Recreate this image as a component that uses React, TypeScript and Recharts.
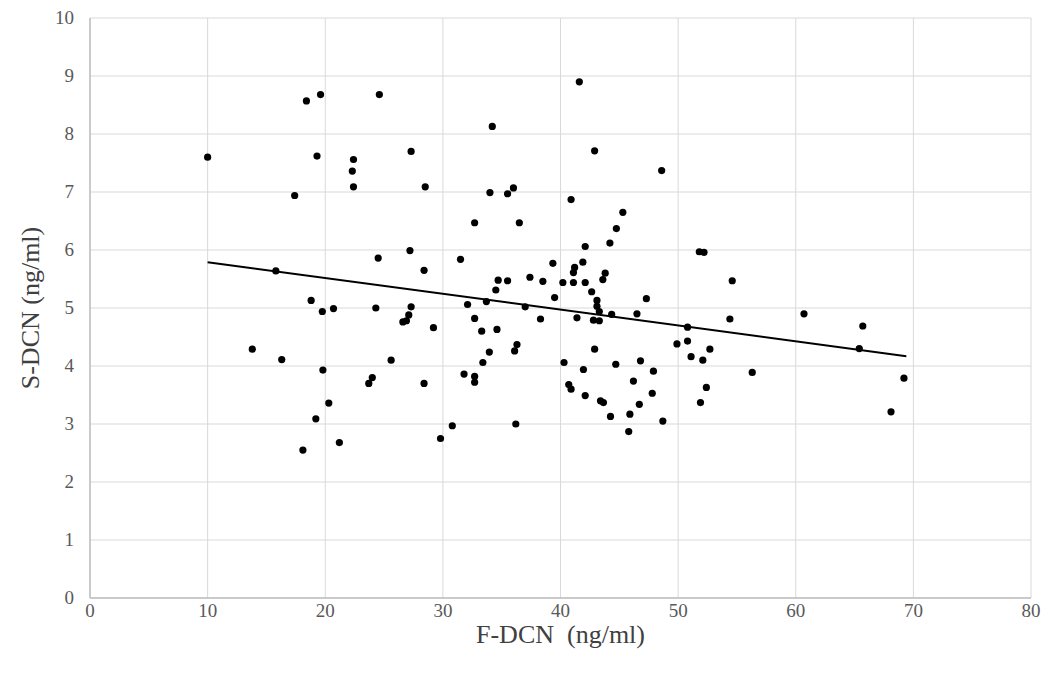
import React from 'react'
import { ScatterChart, Scatter, XAxis, YAxis, CartesianGrid } from 'recharts'

// F-DCN (ng/ml)
const fdcn = [
    10.0, 13.8, 15.8, 16.3, 17.4, 18.1, 18.4, 18.8, 19.2, 19.3,
    19.6, 19.75, 19.8, 20.3, 20.7, 21.2, 22.3, 22.4, 22.4, 23.7,
    24.0, 24.3, 24.5, 24.6, 25.6, 26.6, 26.9, 27.1, 27.2, 27.3,
    27.3, 28.4, 28.4, 28.5, 29.2, 29.8, 30.8, 31.5, 31.8, 32.1,
    32.7, 32.7, 32.7, 32.7, 33.3, 33.4, 33.7, 33.95, 34.0, 34.2,
    34.5, 34.6, 34.7, 35.5, 35.5, 36.0, 36.1, 36.2, 36.3, 36.5,
    37.0, 37.4, 38.3, 38.5, 39.35, 39.5, 40.2, 40.3, 40.7, 40.9,
    40.9, 41.1, 41.1, 41.2, 41.4, 41.6, 41.9, 41.95, 42.1, 42.1,
    42.1, 42.65, 42.8, 42.9, 42.9, 43.1, 43.1, 43.3, 43.3, 43.4,
    43.6, 43.65, 43.8, 44.2, 44.25, 44.35, 44.7, 44.75, 45.3, 45.8,
    45.9, 46.2, 46.5, 46.7, 46.8, 47.3, 47.8, 47.9, 48.6, 48.7,
    49.9, 50.8, 50.8, 51.1, 51.8, 52.2, 51.9, 52.1, 52.4, 52.7,
    54.4, 54.6, 56.3, 60.7, 65.4, 65.7, 68.1, 69.2,
]

// S-DCN (ng/ml)
const sdcn = [
    7.60, 4.29, 5.64, 4.11, 6.94, 2.55, 8.57, 5.13, 3.09, 7.62,
    8.68, 4.94, 3.93, 3.36, 4.99, 2.68, 7.36, 7.56, 7.09, 3.70,
    3.80, 5.00, 5.86, 8.68, 4.10, 4.76, 4.78, 4.88, 5.99, 5.02,
    7.70, 5.65, 3.70, 7.09, 4.66, 2.75, 2.97, 5.84, 3.86, 5.06,
    6.47, 4.82, 3.82, 3.72, 4.60, 4.06, 5.11, 4.24, 6.99, 8.13,
    5.31, 4.63, 5.48, 5.47, 6.97, 7.07, 4.26, 3.00, 4.37, 6.47,
    5.02, 5.53, 4.81, 5.46, 5.77, 5.18, 5.44, 4.06, 3.68, 3.60,
    6.87, 5.44, 5.61, 5.70, 4.83, 8.90, 5.79, 3.94, 6.06, 5.44,
    3.49, 5.28, 4.79, 4.29, 7.71, 5.13, 5.03, 4.94, 4.78, 3.40,
    5.49, 3.37, 5.60, 6.12, 3.13, 4.89, 4.03, 6.37, 6.65, 2.87,
    3.17, 3.74, 4.90, 3.34, 4.09, 5.16, 3.53, 3.91, 7.37, 3.05,
    4.38, 4.43, 4.67, 4.16, 5.97, 5.96, 3.37, 4.10, 3.63, 4.29,
    4.81, 5.47, 3.89, 4.90, 4.30, 4.69, 3.21, 3.79,
]

// linear trend line end points
const trendX = [10.0, 69.4]
const trendY = [5.79, 4.17]

const xTicks = [0, 10, 20, 30, 40, 50, 60, 70, 80]
const yTicks = [0, 1, 2, 3, 4, 5, 6, 7, 8, 9, 10]

const points = fdcn.map((x, i) => ({ x, y: sdcn[i] }))
const trend = trendX.map((x, i) => ({ x, y: trendY[i] }))

const font = '"Liberation Serif", "Times New Roman", serif'
const titleStyle = { fill: '#404040', fontSize: 26, fontFamily: font, textAnchor: 'middle' as const }

function XTick({ x, y, payload }: any) {
    return (
        <text x={x} y={y + 19} textAnchor="middle" fill="#595959" fontSize={19} fontFamily={font}>
            {payload.value}
        </text>
    )
}

function YTick({ x, y, payload }: any) {
    return (
        <text x={x} y={y + 6} textAnchor="end" fill="#595959" fontSize={19} fontFamily={font}>
            {payload.value}
        </text>
    )
}

export default function App() {
    return (
        <div style={{ position: 'absolute', left: 0, top: 0, background: '#fff' }}>
            <ScatterChart width={1054} height={677} margin={{ top: 18, right: 23, bottom: 0, left: 0 }}>
                <CartesianGrid stroke="#d9d9d9" strokeWidth={1} />
                <XAxis
                    type="number"
                    dataKey="x"
                    domain={[0, 80]}
                    ticks={xTicks}
                    height={79}
                    axisLine={{ stroke: '#bfbfbf', strokeWidth: 1.5 }}
                    tickLine={false}
                    tickSize={0}
                    tickMargin={0}
                    tick={<XTick />}
                    label={{
                        value: 'F-DCN\u00a0\u00a0(ng/ml)',
                        position: 'insideBottom',
                        offset: 34,
                        style: titleStyle,
                    }}
                />
                <YAxis
                    type="number"
                    dataKey="y"
                    domain={[0, 10]}
                    ticks={yTicks}
                    width={90}
                    axisLine={{ stroke: '#bfbfbf', strokeWidth: 1.5 }}
                    tickLine={false}
                    tickSize={0}
                    tickMargin={16}
                    tick={<YTick />}
                    label={{
                        value: 'S-DCN (ng/ml)',
                        angle: -90,
                        position: 'insideLeft',
                        offset: 30,
                        style: titleStyle,
                    }}
                />
                <Scatter data={points} fill="#000" isAnimationActive={false} shape={(p: any) => <circle cx={p.cx} cy={p.cy} r={3.6} fill="#000" />} />
                <Scatter
                    data={trend}
                    line={{ stroke: '#000', strokeWidth: 2 }}
                    shape={() => <g />}
                    isAnimationActive={false}
                />
            </ScatterChart>
        </div>
    )
}
